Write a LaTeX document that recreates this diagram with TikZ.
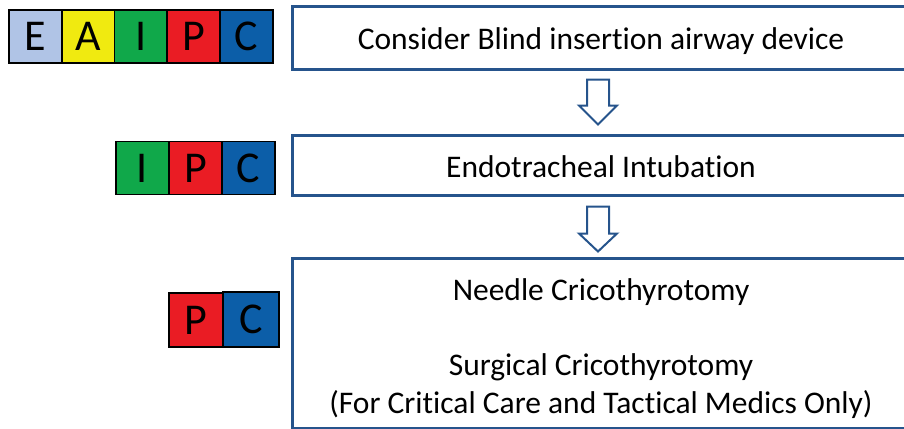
\documentclass[tikz,border=0pt]{standalone}
\usepackage{fontspec}
\setmainfont{Carlito}[Ligatures=NoCommon]
\usetikzlibrary{calc}
\definecolor{boxblue}{RGB}{38,84,140}
\definecolor{cE}{RGB}{176,196,230}
\definecolor{cA}{RGB}{240,234,16}
\definecolor{cI}{RGB}{16,168,74}
\definecolor{cP}{RGB}{234,28,36}
\definecolor{cC}{RGB}{12,94,168}
\tikzset{
  cell/.style={draw=black, line width=1.6pt, minimum width=53pt, minimum height=53pt,
    inner sep=0pt, font=\fontsize{44}{46}\selectfont, text=black},
  stepbox/.style={draw=boxblue, line width=3pt, fill=white, inner sep=0pt},
  label/.style={font=\fontsize{31.5}{38}\selectfont, align=center, text=black},
  blockarrow/.style={draw=boxblue, line width=2pt, fill=white, line join=miter}
}
\begin{document}
\begin{tikzpicture}[x=1pt,y=-1pt]
\useasboundingbox (0,0) rectangle (904,428);
\clip (0,0) rectangle (904,428);
% colour code rows
\node[cell, fill=cE] (e1) at (35.5,36.5) {E};
\node[cell, fill=cA] (a1) at (88.5,36.5) {A};
\node[cell, fill=cI] (i1) at (141,36.5) {I};
\node[cell, fill=cP] (p1) at (193.5,36.5) {P};
\node[cell, fill=cC] (c1) at (246.5,36.5) {C};
\node[cell, fill=cI] (i2) at (142.5,168) {I};
\node[cell, fill=cP] (p2) at (195.5,168) {P};
\node[cell, fill=cC] (c2) at (248.5,168) {C};
\node[cell, fill=cP, minimum width=54pt, minimum height=54pt] (p3) at (196,320) {P};
\node[cell, fill=cC, minimum width=56pt, minimum height=55pt, line width=1.2pt] (c3) at (251,319.5) {C};
% step boxes
\node[stepbox, minimum width=618pt, minimum height=62pt] (b1) at (601,38) {};
\node[label] (t1) at (601,41) {Consider Blind insertion airway device};
\node[stepbox, minimum width=618pt, minimum height=60pt] (b2) at (601,165) {};
\node[label] (t2) at (601,167) {Endotracheal Intubation};
\node[stepbox, minimum width=618pt, minimum height=170pt] (b3) at (601,343) {};
\node[label] (t3a) at (601,292) {Needle Cricothyrotomy};
\node[label] (t3b) at (601,367) {Surgical Cricothyrotomy};
\node[label] (t3c) at (601,405) {(For Critical Care and Tactical Medics Only)};
% block arrows
\coordinate (a1top) at ($(b1.south)+(-3,9)$);
\coordinate (a2top) at ($(b2.south)+(-3,10)$);
\draw[blockarrow] ([xshift=-11pt]a1top) -- ++(22,0) -- ++(0,26) -- ++(8,0) -- ++(-19,19) -- ++(-19,-19) -- ++(8,0) -- cycle;
\draw[blockarrow] ([xshift=-11pt]a2top) -- ++(22,0) -- ++(0,27) -- ++(8,0) -- ++(-19,18) -- ++(-19,-18) -- ++(8,0) -- cycle;
\end{tikzpicture}
\end{document}
